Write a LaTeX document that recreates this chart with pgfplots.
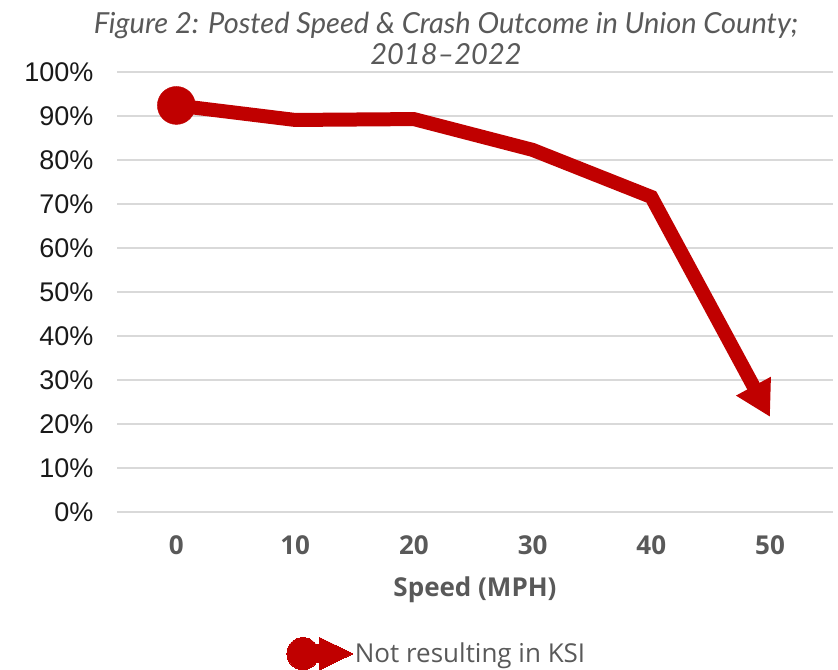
\documentclass[border=0pt]{standalone}
\usepackage{fontspec}
\setmainfont{Open Sans}
\newfontfamily\latofont{Lato}
\newfontfamily\arialfont{Liberation Sans}
\usepackage{pgfplots}
\pgfplotsset{compat=1.18}
\usetikzlibrary{arrows.meta}
\definecolor{cred}{HTML}{C00000}
\definecolor{cgrid}{HTML}{D9D9D9}
\definecolor{cgray}{HTML}{595959}
\begin{document}
\begin{tikzpicture}
\path[use as bounding box] (0,0) rectangle (838bp,670bp);
\node[align=center, text=cgray, font=\latofont\fontsize{29bp}{31bp}\selectfont\itshape] at (446bp,632bp)
  {Figure 2: Posted Speed \& Crash Outcome in Union County;\\2018–2022};
\begin{axis}[
  at={(117bp,158bp)}, anchor=south west,
  scale only axis, width=716bp, height=440bp,
  xmin=-0.5, xmax=5.53, ymin=0, ymax=100,
  clip=false,
  axis line style={draw=none},
  major tick length=0pt,
  ytick={0,10,...,100},
  yticklabel={\pgfmathprintnumber{\tick}\%},
  xtick={0,1,2,3,4,5},
  xticklabels={0,10,20,30,40,50},
  /pgf/number format/assume math mode=true,
  ymajorgrids,
  major grid style={line width=1.8bp, color=cgrid},
  yticklabel style={font=\arialfont\fontsize{27bp}{30bp}\selectfont, text=black!90, xshift=-20bp},
  xticklabel style={font=\fontsize{26bp}{30bp}\selectfont\bfseries, text=cgray, yshift=-20bp},
  xlabel={Speed (MPH)},
  xlabel style={font=\fontsize{26bp}{30bp}\selectfont\bfseries, text=cgray, yshift=-15bp},
  legend style={at={(0.447,-0.322)}, anchor=center, draw=none, fill=none,
    font=\fontsize{26bp}{30bp}\selectfont, text=cgray,
    /tikz/every even column/.append style={column sep=0pt}},
]
\addplot[only marks, mark=*, mark size=19bp, color=cred, forget plot] coordinates {(0,92.4)};
\addplot[color=cred, line width=14bp, mark=none,
  -{Triangle[length=35bp,width=37bp]},
  legend image code/.code={
    \begin{scope}[arrows=-, line width=0pt]
    \fill[cred] (0bp,0bp) circle[radius=16bp];
    \fill[cred] (10bp,-9bp) rectangle (20bp,9bp);
    \fill[cred] (17bp,-16bp) -- (50bp,0bp) -- (17bp,16bp) -- cycle;
    \end{scope}
  }]
  coordinates {(0,92.4) (1,89.1) (2,89.3) (3,82.3) (4,71.6) (5,21.6)};
\addlegendentry{Not resulting in KSI}
\end{axis}
\end{tikzpicture}
\end{document}
